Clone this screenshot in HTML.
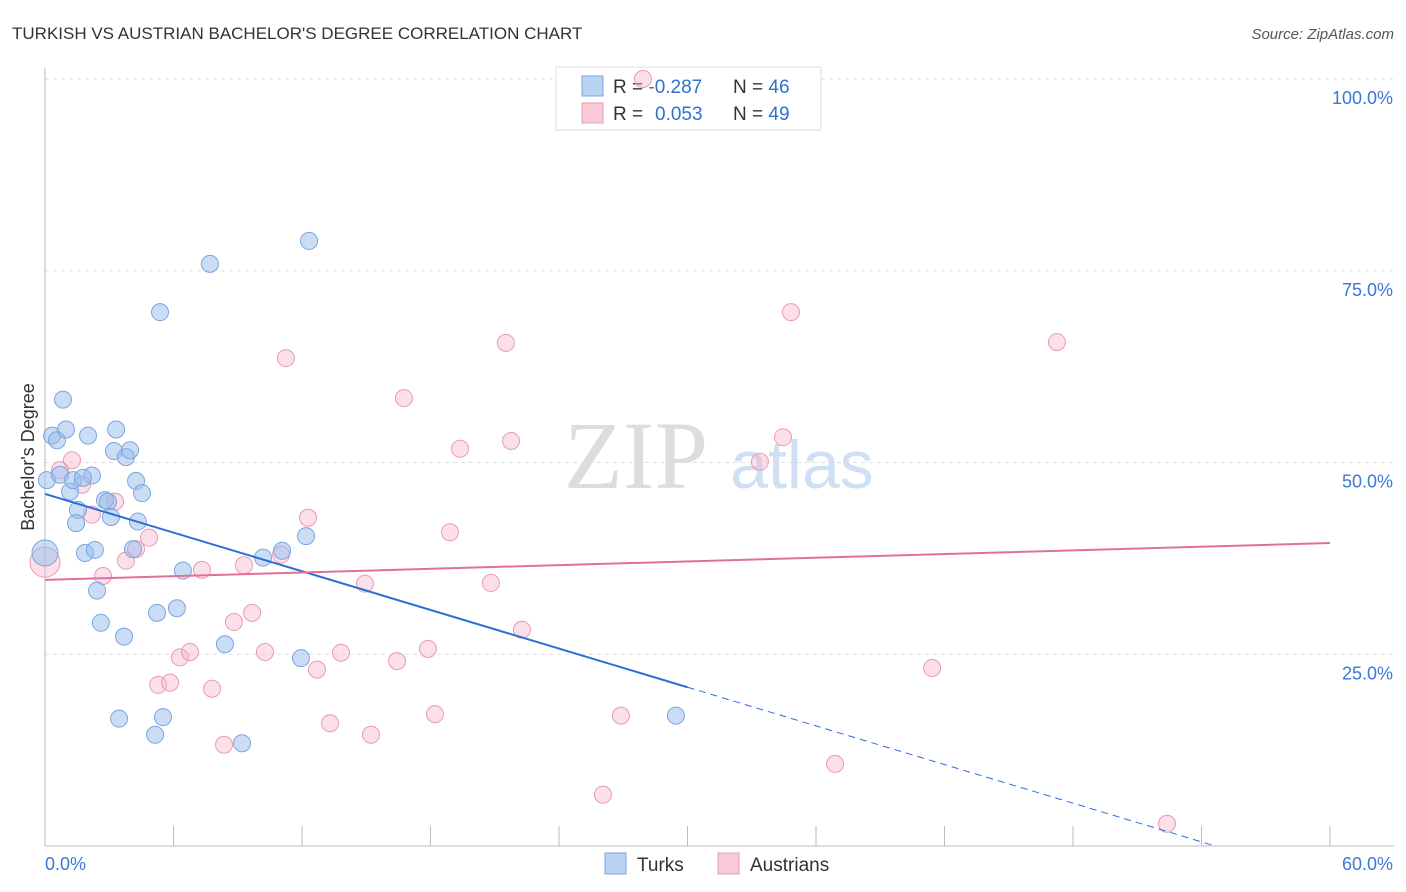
<!DOCTYPE html>
<html><head><meta charset="utf-8"><style>
body{margin:0;background:#fff;font-family:"Liberation Sans",sans-serif;}
svg{display:block}
</style></head><body>
<svg id="chart" width="1406" height="892">
<text x="12" y="39" font-size="17" fill="#333">TURKISH VS AUSTRIAN BACHELOR'S DEGREE CORRELATION CHART</text>
<text x="1394" y="39" font-size="15" fill="#555" font-style="italic" text-anchor="end">Source: ZipAtlas.com</text>
<text x="636" y="488" font-size="96" fill="#ddd" font-family="Liberation Serif,serif" text-anchor="middle">ZIP</text>
<text x="802" y="488" font-size="68" fill="#cfe0f4" text-anchor="middle">atlas</text>
<text transform="translate(34,457) rotate(-90)" font-size="18" fill="#333" text-anchor="middle">Bachelor's Degree</text>
<g id="grid"></g><g id="axes"></g>
<g>
<rect x="556" y="67" width="265" height="63" fill="#fff" stroke="#ddd"/>
<rect x="582" y="76" width="21" height="20" fill="#b9d3f3" stroke="#7aa6e0"/>
<rect x="582" y="103" width="21" height="20" fill="#f9c9d8" stroke="#e89ab5"/>
<text x="613" y="93" font-size="19" fill="#333">R = <tspan fill="#3070d0">-0.287</tspan><tspan x="733">N = </tspan><tspan fill="#3070d0">46</tspan></text>
<text x="613" y="120" font-size="19" fill="#333">R = <tspan x="655" fill="#3070d0">0.053</tspan><tspan x="733">N = </tspan><tspan fill="#3070d0">49</tspan></text>
</g>
<g id="marks"></g>
<g>
<rect x="605" y="853" width="21" height="21" fill="#b9d3f3" stroke="#7aa6e0"/>
<text x="637" y="871" font-size="19" fill="#333">Turks</text>
<rect x="718" y="853" width="21" height="21" fill="#f9c9d8" stroke="#e89ab5"/>
<text x="750" y="871" font-size="19" fill="#333">Austrians</text>
</g>
</svg>
<script>
const yTicks=[25,50,75,100];
const yTickLabels=["25.0%","50.0%","75.0%","100.0%"];
const xTicks=[0,6,12,18,24,30,36,42,48,54,60];
const xEndLabels=["0.0%","60.0%"];
const turksX=[0.09,0.33,0.56,0.84,0.98,0.70,1.17,1.31,2.01,2.19,1.77,1.54,1.45,1.87,2.33,2.43,2.61,2.80,2.94,3.08,3.22,3.32,3.78,3.97,4.25,4.53,4.34,4.11,3.69,3.46,5.14,5.51,5.23,6.16,6.44,8.40,9.20,10.18,11.07,12.19,11.95,5.37,7.70,12.33,29.46];
const turksY=[47.7,53.5,52.9,58.2,54.3,48.4,46.2,47.7,53.5,48.3,48.0,43.8,42.1,38.2,38.6,33.3,29.1,45.1,44.9,42.9,51.5,54.3,50.7,51.6,47.6,46.0,42.3,38.7,27.3,16.6,14.5,16.8,30.4,31.0,35.9,26.3,13.4,37.6,38.5,40.4,24.5,69.6,75.9,78.9,17.0];
const austX=[0.70,1.26,1.73,2.19,2.71,3.27,3.78,4.25,4.86,5.28,5.84,6.30,6.77,7.33,7.80,8.36,8.82,9.29,9.67,10.27,11.02,11.25,12.28,12.70,13.31,13.82,14.94,15.22,16.44,16.76,17.88,18.21,18.91,19.38,20.82,21.52,21.76,22.27,26.05,26.89,27.92,33.38,34.46,34.83,36.89,41.42,47.25,52.39];
const austY=[49.0,50.3,47.1,43.2,35.2,44.9,37.2,38.7,40.2,21.0,21.3,24.6,25.3,36.0,20.5,13.2,29.2,36.6,30.4,25.3,38.0,63.6,42.8,23.0,16.0,25.2,34.2,14.5,24.1,58.4,25.7,17.2,40.9,51.8,34.3,65.6,52.8,28.2,6.7,17.0,100.0,50.1,53.3,69.6,10.7,23.2,65.7,2.9];
const bigX=[0,0];const bigY=[38.2,37.0];
const turksTrend=[45.9,-0.84];
const austTrend=[34.7,0.08];
const NS="http://www.w3.org/2000/svg";
const X=v=>45+v*(1285/60), Y=v=>846-v*(767/100);
function mk(tag,attrs,parent){const e=document.createElementNS(NS,tag);for(const k in attrs)e.setAttribute(k,attrs[k]);document.getElementById(parent).appendChild(e);return e;}
yTicks.forEach((t,i)=>{
 let l=mk('line',{x1:45,x2:1394,y1:Y(t),y2:Y(t),stroke:'#ddd','stroke-dasharray':'4,4'},'grid');
 
 
 let tx=mk('text',{x:1393,y:Y(t)+25,'font-size':18,fill:'#3a78d8','text-anchor':'end'},'grid');tx.textContent=yTickLabels[i];
 
 
});
let ax=mk('line',{x1:45,x2:45,y1:68,y2:846,stroke:'#bbb'},'axes');


let bx=mk('line',{x1:45,x2:1394,y1:846,y2:846,stroke:'#bbb'},'axes');


xTicks.forEach(t=>{let l=mk('line',{x1:X(t),x2:X(t),y1:826,y2:846,stroke:'#bbb'},'axes');
 
 });
[[0,'start',45],[60,'end',1393]].forEach((p,i)=>{let tx=mk('text',{x:p[2],y:870,'font-size':18,fill:'#3a78d8','text-anchor':p[1]},'axes');tx.textContent=xEndLabels[i];
 
 });
function dot(x,y,r,turk){const c=mk('circle',{cx:X(x),cy:Y(y),r:r,fill:turk?'rgba(150,188,236,0.5)':'rgba(246,178,202,0.4)',stroke:turk?'#7aa6e0':'#e89ab5','stroke-width':1},'marks');
 
 }
dot(bigX[1],bigY[1],15,false);
austX.forEach((x,i)=>dot(x,austY[i],8.5,false));
dot(bigX[0],bigY[0],13,true);
turksX.forEach((x,i)=>dot(x,turksY[i],8.5,true));
const tY=x=>turksTrend[0]+turksTrend[1]*x, aY=x=>austTrend[0]+austTrend[1]*x;
let t1=mk('line',{x1:X(0),y1:Y(tY(0)),x2:X(30),y2:Y(tY(30)),stroke:'#2b6fd6','stroke-width':2},'marks');


const xz=-turksTrend[0]/turksTrend[1];
let t2=mk('line',{x1:X(30),y1:Y(tY(30)),x2:X(xz),y2:Y(0),stroke:'#2b6fd6','stroke-width':1,'stroke-dasharray':'7,5'},'marks');


let a1=mk('line',{x1:X(0),y1:Y(aY(0)),x2:X(60),y2:Y(aY(60)),stroke:'#e0709a','stroke-width':2},'marks');


</script>
</body></html>
